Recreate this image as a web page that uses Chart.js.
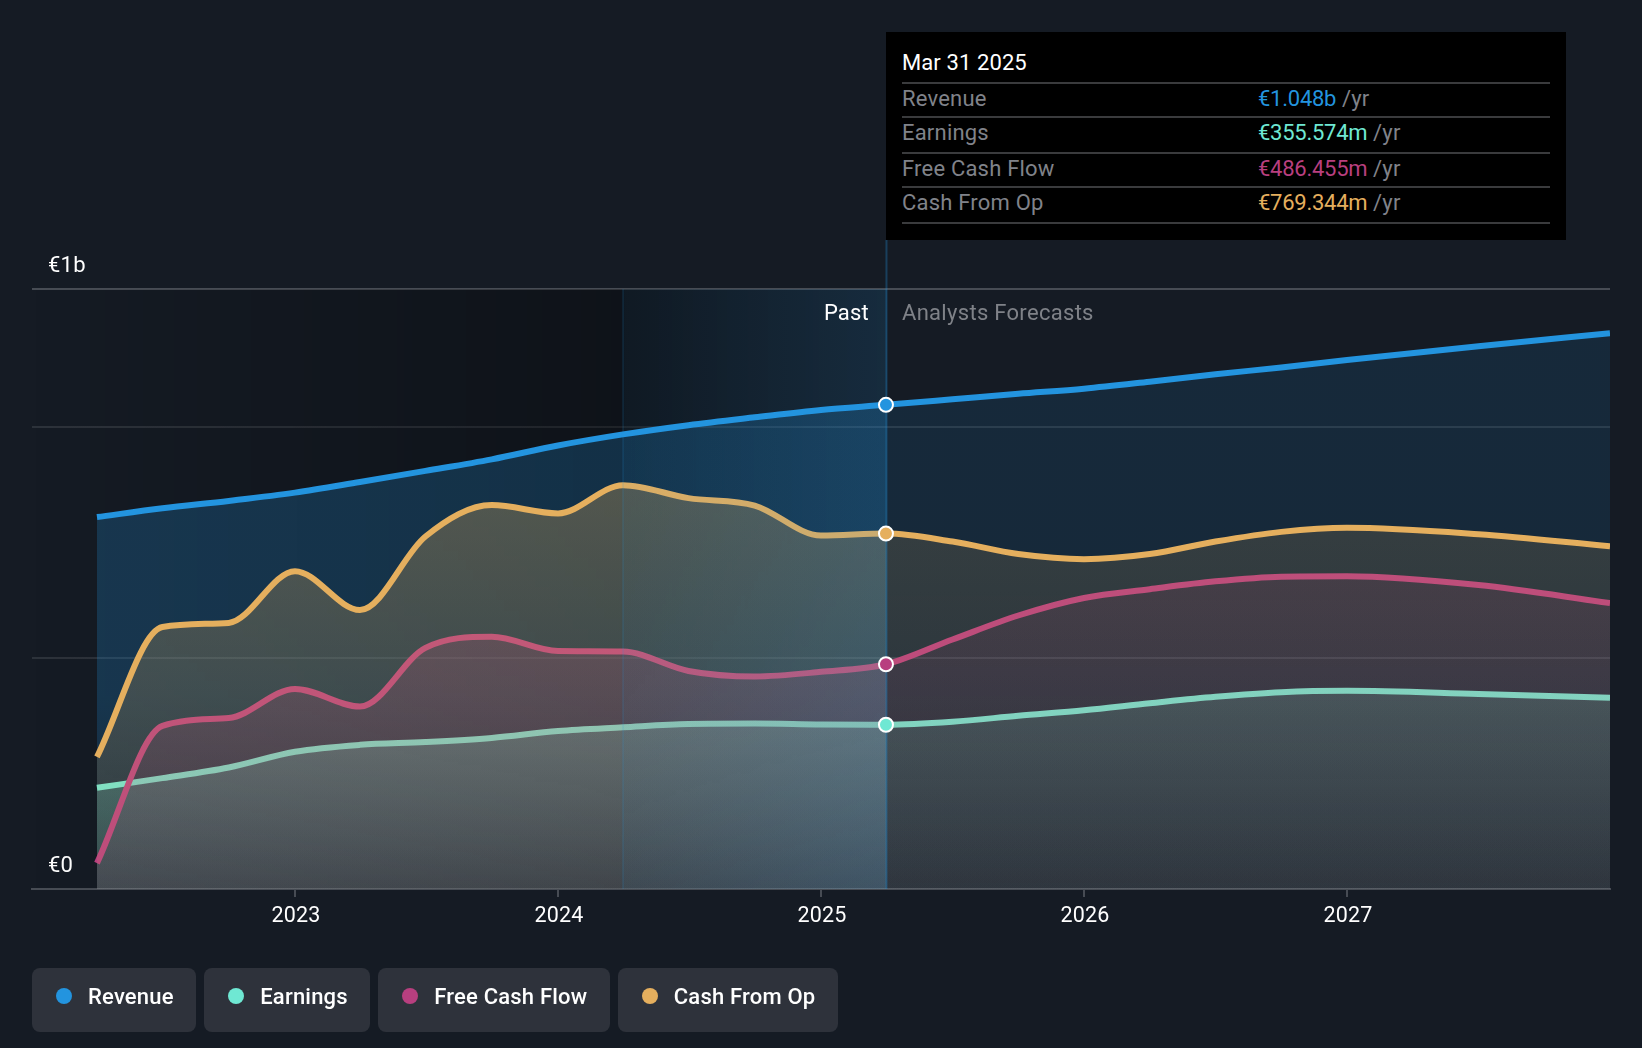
<!DOCTYPE html>
<html>
<head>
<meta charset="utf-8">
<title>Revenue and earnings</title>
<script src="https://cdn.jsdelivr.net/npm/chart.js@4"></script>
<style>
  html, body { margin: 0; padding: 0; background: #151b24; }
  body { width: 1642px; height: 1048px; position: relative; overflow: hidden; font-family: Roboto, sans-serif; letter-spacing: 0.2px; }
  canvas { position: absolute; left: 0; top: 0; }
  .panel { position: absolute; left: 886px; top: 32px; width: 680px; height: 208px; background: #000; color: #80838a; font-size: 22px; }
  .panel .date { position: absolute; left: 16px; top: 17px; color: #fff; line-height: 28px; letter-spacing: 0.1px; }
  .panel .row { position: absolute; left: 16px; width: 648px; height: 30px; line-height: 30px; border-top: 2px solid #3a3b3d; }
  .panel .val { position: absolute; left: 356px; top: 0; white-space: nowrap; }
  .panel .val span { letter-spacing: -0.25px; }
  .zone { position: absolute; top: 299px; line-height: 28px; font-size: 22px; }
  .legend { position: absolute; left: 32px; top: 968px; display: flex; gap: 8px; }
  .pill { height: 64px; line-height: 58px; box-sizing: border-box; padding: 0 22.5px 0 56px; background: #2e323b; border-radius: 8px; color: #fff; font-size: 22px; font-weight: 500; position: relative; white-space: nowrap; }
  .pill i { position: absolute; left: 24px; top: 20px; width: 16px; height: 16px; border-radius: 50%; }
</style>
</head>
<body>
<canvas id="chart" width="1642" height="1048"></canvas>
<div class="panel" id="panel"></div>
<div class="zone" style="right:773px;color:#fff">Past</div>
<div class="zone" style="left:902px;color:#7f8288;letter-spacing:0.3px">Analysts Forecasts</div>
<div class="legend" id="legend"></div>
<script>
// years as decimals, quarter ends in the past and read-off positions in the forecast
const years = [2022.247, 2022.496, 2022.748, 2023, 2023.247, 2023.496, 2023.748, 2024, 2024.247, 2024.496, 2024.748, 2025, 2025.247,
  2025.5, 2025.75, 2026, 2026.25, 2026.5, 2026.75, 2027, 2027.5, 2028];

// EUR millions
const revenue = [805, 824, 840, 858, 881, 905, 930, 960, 984, 1004, 1021, 1037, 1048,
  1060, 1072, 1083, 1098, 1114, 1129, 1145, 1175, 1203];
const earnings = [219, 240, 263, 297, 312, 318, 327, 342, 350, 357, 358, 356, 355.574,
  362, 375, 387, 402, 416, 426, 429, 422, 414];
const freeCashFlow = [56, 353, 370, 433, 395, 522, 546, 515, 514, 472, 460, 470, 486.455,
  540, 592, 630, 649, 666, 676, 677, 658, 619];
const cashFromOp = [286, 567, 576, 688, 604, 763, 831, 813, 874, 846, 830, 765, 769.344,
  752, 725, 714, 725, 752, 773, 782, 768, 742];

const seriesNames = ['Revenue', 'Earnings', 'Free Cash Flow', 'Cash From Op'];
const seriesValues = [revenue, earnings, freeCashFlow, cashFromOp];
const seriesColors = ['#2394df', '#6fe8d3', '#b83f7f', '#e5af5e'];
const panelValues = ['€1.048b', '€355.574m', '€486.455m', '€769.344m'];

// area alpha at the top of each series and at the axis
const fillTop = [0.23, 0.33, 0.25, 0.3];
const fillBottom = [0.1, 0.12, 0.11, 0.1];

const panelDate = 'Mar 31 2025';
const nowYear = 2025.247;
const pastStartYear = 2024.247;
const xTicks = [2023, 2024, 2025, 2026, 2027];
const yTicks = [0, 500, 1000, 1298.7];
const yLabels = ['€0', '', '', '€1b'];

const rgb = hex => [1, 3, 5].map(i => parseInt(hex.slice(i, i + 2), 16)).join(',');

// fill side panel and legend
const panel = document.getElementById('panel');
panel.innerHTML = `<div class="date">${panelDate}</div>`;
const rowTops = [50, 84, 120, 154, 190];
seriesNames.forEach((name, i) => {
  panel.innerHTML += `<div class="row" style="top:${rowTops[i]}px">${name}<span class="val"><span style="color:${seriesColors[i]}">${panelValues[i]}</span> /yr</span></div>`;
});
panel.innerHTML += `<div class="row" style="top:${rowTops[4]}px"></div>`;

document.getElementById('legend').innerHTML = seriesNames.map((name, i) =>
  `<div class="pill"><i style="background:${seriesColors[i]}"></i>${name}</div>`).join('');

// gradient for the area under a line, stronger in the past than in the forecast
const gradients = {};
function areaFill(chart, i, past) {
  const key = i + (past ? 'p' : 'f');
  if (gradients[key]) return gradients[key];
  const y = chart.scales.y;
  const g = chart.ctx.createLinearGradient(0, y.getPixelForValue(Math.max(...seriesValues[i])), 0, y.getPixelForValue(0));
  const k = past ? 1 : 0.53;
  const c = rgb(seriesColors[i]);
  g.addColorStop(0, `rgba(${c},${fillTop[i] * k})`);
  if (i === 0) g.addColorStop(0.65, `rgba(${c},${fillTop[i] * k})`);
  g.addColorStop(1, `rgba(${c},${fillBottom[i] * k})`);
  gradients[key] = g;
  return g;
}

const lineSets = seriesNames.map((name, i) => ({
  label: name,
  data: years.map((x, j) => ({ x, y: seriesValues[i][j] })),
  borderColor: seriesColors[i],
  borderWidth: 6,
  backgroundColor: 'transparent',
  fill: 'origin',
  pointRadius: 0,
  cubicInterpolationMode: 'monotone',
  order: 4 - i,
  segment: {
    backgroundColor: ctx => areaFill(ctx.chart, i, ctx.p1.parsed.x <= nowYear)
  }
}));

const nowIndex = years.indexOf(nowYear);
const markerSet = {
  label: panelDate,
  data: seriesValues.map(v => ({ x: nowYear, y: v[nowIndex] })),
  showLine: false,
  fill: false,
  pointRadius: 7,
  pointBorderWidth: 2,
  pointBorderColor: '#fff',
  pointBackgroundColor: seriesColors,
  order: 0
};

// dark band up to the last year, fading out inside it, and the blue highlight over the lines
const zones = {
  id: 'zones',
  beforeDatasetsDraw(chart) {
    const { ctx, chartArea: a, scales: { x } } = chart;
    const x1 = x.getPixelForValue(pastStartYear);
    const x2 = x.getPixelForValue(nowYear);
    const g = ctx.createLinearGradient(a.left, 0, x2, 0);
    const mid = (x1 - a.left) / (x2 - a.left);
    g.addColorStop(0, 'rgba(0,0,0,0)');
    g.addColorStop(mid, 'rgba(0,0,0,0.3)');
    g.addColorStop(1, 'rgba(0,0,0,0)');
    ctx.save();
    ctx.fillStyle = g;
    ctx.fillRect(a.left, a.top, x2 - a.left, a.bottom - a.top);
    ctx.restore();
  },
  afterDatasetDraw(chart, args) {
    if (args.meta.label !== 'Cash From Op') return;
    const { ctx, chartArea: a, scales: { x } } = chart;
    const x1 = x.getPixelForValue(pastStartYear);
    const x2 = x.getPixelForValue(nowYear) + 1;
    const g = ctx.createLinearGradient(x1, 0, x2, 0);
    g.addColorStop(0, 'rgba(35,148,223,0.05)');
    g.addColorStop(1, 'rgba(35,148,223,0.14)');
    ctx.save();
    ctx.fillStyle = g;
    ctx.fillRect(x1, a.top, x2 - x1, a.bottom - a.top);
    ctx.fillStyle = 'rgba(35,148,223,0.12)';
    ctx.fillRect(x1 - 1, a.top, 2, a.bottom - a.top);
    ctx.fillStyle = 'rgba(35,148,223,0.3)';
    ctx.fillRect(x2 - 1.5, 240, 2, a.bottom - 240);
    ctx.restore();
  }
};

new Chart(document.getElementById('chart'), {
  type: 'line',
  data: { datasets: [...lineSets, markerSet] },
  plugins: [zones],
  options: {
    responsive: false,
    devicePixelRatio: 1,
    animation: false,
    layout: { padding: { left: 32, right: 32, top: 289, bottom: 109 } },
    plugins: { legend: { display: false }, tooltip: { enabled: false } },
    scales: {
      x: {
        type: 'linear',
        min: 2022,
        max: 2028,
        afterBuildTicks: scale => { scale.ticks = xTicks.map(value => ({ value })); },
        afterFit: scale => { scale.height = 50; },
        grid: { drawOnChartArea: false, drawTicks: true, tickLength: 8, color: '#474c54', lineWidth: 2 },
        border: { color: '#474c54', width: 2 },
        ticks: {
          color: '#fff',
          padding: 7,
          labelOffset: 1,
          maxRotation: 0,
          autoSkip: false,
          font: { family: 'Roboto', size: 21.5 },
          callback: v => String(v)
        }
      },
      y: {
        min: 0,
        max: 1298.7,
        afterBuildTicks: scale => { scale.ticks = yTicks.map(value => ({ value })); },
        afterFit: scale => { scale.width = 0; },
        border: { display: false },
        grid: {
          drawTicks: false,
          lineWidth: 2,
          color: c => (c.tick.value === 0 || c.tick.value === 1298.7) ? '#474c54' : 'rgba(255,255,255,0.1)'
        },
        ticks: {
          color: '#fff',
          mirror: true,
          padding: 16,
          labelOffset: -22.5,
          autoSkip: false,
          font: { family: 'Roboto', size: 22 },
          callback: v => yLabels[yTicks.indexOf(v)]
        }
      }
    }
  }
});
</script>
</body>
</html>
